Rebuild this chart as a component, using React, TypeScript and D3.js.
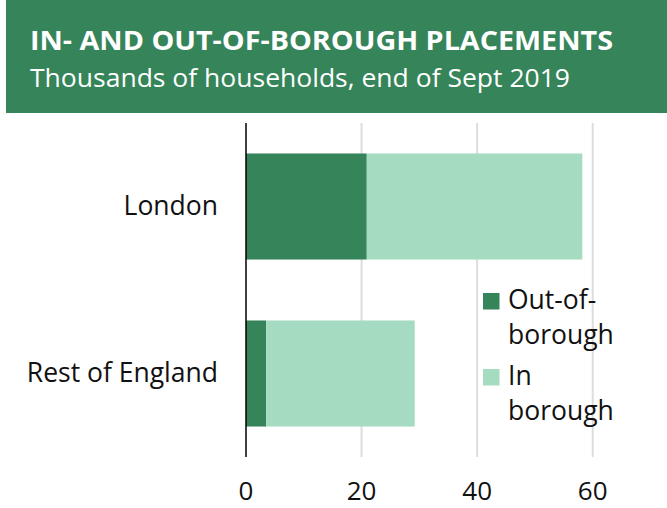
import React from "react";
import * as d3 from "d3";

const categories = ["London", "Rest of England"];
const outOfBorough = [20.9, 3.5];
const inBorough = [37.3, 25.7];
const xTicks = [0, 20, 40, 60];
const seriesNames = ["Out-of-borough", "In borough"];
const legendLines = [["Out-of-", "borough"], ["In", "borough"]];
const title = "IN- AND OUT-OF-BOROUGH  PLACEMENTS";
const subtitle = "Thousands of households, end of Sept 2019";

const W = 667;
const H = 508;
const DARK = "#35845a";
const LIGHT = "#a5dbc0";
const FONT = "'Open Sans', sans-serif";

export default function App() {
  const x = d3.scaleLinear().domain([0, 60]).range([246, 592.7]);
  const y = d3
    .scaleBand<string>()
    .domain(categories)
    .range([123, 457])
    .paddingInner(0.365)
    .paddingOuter(0.1825);

  const rows = categories.map((c, i) => ({
    cat: c,
    segs: [
      { key: seriesNames[0], x0: 0, x1: outOfBorough[i], color: DARK },
      { key: seriesNames[1], x0: outOfBorough[i], x1: outOfBorough[i] + inBorough[i], color: LIGHT },
    ],
  }));

  const legendColors = [DARK, LIGHT];

  return (
    <svg
      width={W}
      height={H}
      style={{ position: "absolute", left: 0, top: 0, background: "#fff" }}
      fontFamily={FONT}
    >
      <rect x={6} y={0} width={W - 6} height={113} fill={DARK} />
      <text x={30} y={50} fill="#fff" fontSize={26} fontWeight={700} textLength={583} lengthAdjust="spacingAndGlyphs">
        {title}
      </text>
      <text x={30} y={87} fill="#fff" fontSize={25} textLength={540} lengthAdjust="spacingAndGlyphs">
        {subtitle}
      </text>

      {xTicks.slice(1).map((t) => (
        <line key={t} x1={x(t)} x2={x(t)} y1={123} y2={457} stroke="#dddddd" strokeWidth={2} />
      ))}

      {rows.map((r) =>
        r.segs.map((s) => (
          <rect
            key={r.cat + s.key}
            x={x(s.x0)}
            y={y(r.cat)}
            width={x(s.x1) - x(s.x0)}
            height={y.bandwidth()}
            fill={s.color}
          />
        ))
      )}

      <line x1={x(0)} x2={x(0)} y1={123} y2={457} stroke="#000" strokeWidth={1.5} />

      {categories.map((c) => (
        <text key={c} x={218} y={(y(c) as number) + y.bandwidth() / 2 + 8.5} textAnchor="end" fontSize={26.5} fill="#111">
          {c}
        </text>
      ))}

      {xTicks.map((t) => (
        <text key={t} x={x(t)} y={500} textAnchor="middle" fontSize={26} fill="#111">
          {t}
        </text>
      ))}

      {legendLines.map((lines, i) => (
        <g key={i} transform={`translate(483, ${293 + i * 76})`}>
          <rect x={0} y={0} width={16.5} height={16.5} fill={legendColors[i]} />
          {lines.map((ln, j) => (
            <text key={j} x={25} y={16 + j * 35} fontSize={26.5} fill="#111">
              {ln}
            </text>
          ))}
        </g>
      ))}
    </svg>
  );
}
